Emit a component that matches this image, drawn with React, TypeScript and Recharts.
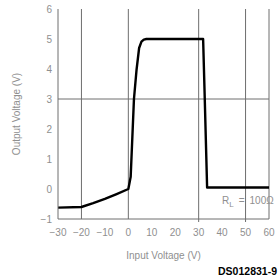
import React from "react";
import {
  LineChart,
  Line,
  XAxis,
  YAxis,
  ReferenceLine,
} from "recharts";

// transfer curve: input voltage (V) vs output voltage (V)
const inputV = [-30, -20, -15, -10, -5, 0, 0.6, 1.0, 2.4, 3.5, 4.6, 5.6, 6.6, 7.7, 31.9, 32.6, 33.6, 60];
const outputV = [-0.62, -0.6, -0.47, -0.33, -0.17, 0, 0.24, 0.41, 3.0, 3.97, 4.7, 4.91, 4.98, 5.0, 5.0, 3.0, 0.05, 0.05];

const xTicks = [-30, -20, -10, 0, 10, 20, 30, 40, 50, 60];
const yTicks = [-1, 0, 1, 2, 3, 4, 5, 6];
const xGrid = [-20, 0, 30, 50, 60];
const yGrid = [3];

const data = inputV.map((x, i) => ({ x, y: outputV[i] }));

const textColor = "#8f8f8f";
const gridColor = "#6e6e6e";
const font = "'Liberation Sans', Arial, sans-serif";

const fmt = (v: number) => (v < 0 ? `\u2212${Math.abs(v)}` : `${v}`);

const XTick = (props: any) => {
  const { x, y, payload } = props;
  const v = payload.value;
  return (
    <g>
      {(v === 30 || v === 50) && <line x1={x} x2={x} y1={y - 10} y2={y - 7} stroke={gridColor} />}
      <text x={x} y={y} dy="0.71em" textAnchor="middle" fill={textColor} fontSize={10} fontFamily={font}>
        {fmt(v)}
      </text>
    </g>
  );
};

export default function App() {
  return (
    <div style={{ position: "absolute", left: 0, top: 0, width: 279, height: 280, background: "#fff" }}>
      <LineChart
        width={279}
        height={280}
        data={data}
        margin={{ top: 9, right: 10, left: 0, bottom: 0 }}
      >
        <XAxis
          dataKey="x"
          type="number"
          domain={[-30, 60]}
          ticks={xTicks}
          interval={0}
          height={61}
          stroke={gridColor}
          tickLine={false}
          tickSize={0}
          tickMargin={10}
          tick={<XTick />}
          label={{
            value: "Input Voltage (V)",
            position: "insideBottom",
            offset: 21,
            fill: textColor,
            fontSize: 10,
            fontFamily: font,
          }}
        />
        <YAxis
          type="number"
          domain={[-1, 6]}
          ticks={yTicks}
          interval={0}
          width={58}
          stroke={gridColor}
          tickLine={false}
          tickSize={0}
          tickMargin={6}
          tickFormatter={fmt}
          tick={{ fill: textColor, fontSize: 10, fontFamily: font }}
          label={{
            value: "Output Voltage (V)",
            content: ({ viewBox }: any) => {
              const cx = viewBox.x + 16;
              const cy = viewBox.y + viewBox.height / 2;
              return (
                <text
                  x={cx}
                  y={cy}
                  transform={`rotate(-90, ${cx}, ${cy})`}
                  textAnchor="middle"
                  dominantBaseline="central"
                  fill={textColor}
                  fontSize={10}
                  fontFamily={font}
                >
                  Output Voltage (V)
                </text>
              );
            },
          }}
        />
        {xGrid.map((v) => (
          <ReferenceLine key={`gx${v}`} x={v} stroke={gridColor} strokeWidth={1} />
        ))}
        {yGrid.map((v) => (
          <ReferenceLine key={`gy${v}`} y={v} stroke={gridColor} strokeWidth={1} />
        ))}
        <Line
          type="linear"
          dataKey="y"
          stroke="#000"
          strokeWidth={2.4}
          strokeLinejoin="round"
          dot={false}
          isAnimationActive={false}
        />
      </LineChart>
      <div
        style={{
          position: "absolute",
          left: 222,
          top: 195,
          fontFamily: font,
          fontSize: 10,
          lineHeight: "12px",
          color: textColor,
          whiteSpace: "nowrap",
        }}
      >
        R<sub style={{ fontSize: 8, lineHeight: 0 }}>L</sub>
        <span style={{ marginLeft: 5 }}>=</span>
        <span style={{ marginLeft: 5 }}>100Ω</span>
      </div>
      <div
        style={{
          position: "absolute",
          right: 2,
          top: 265,
          fontFamily: font,
          fontSize: 10.5,
          lineHeight: "12px",
          fontWeight: "bold",
          color: "#000",
          whiteSpace: "nowrap",
        }}
      >
        DS012831-9
      </div>
    </div>
  );
}
